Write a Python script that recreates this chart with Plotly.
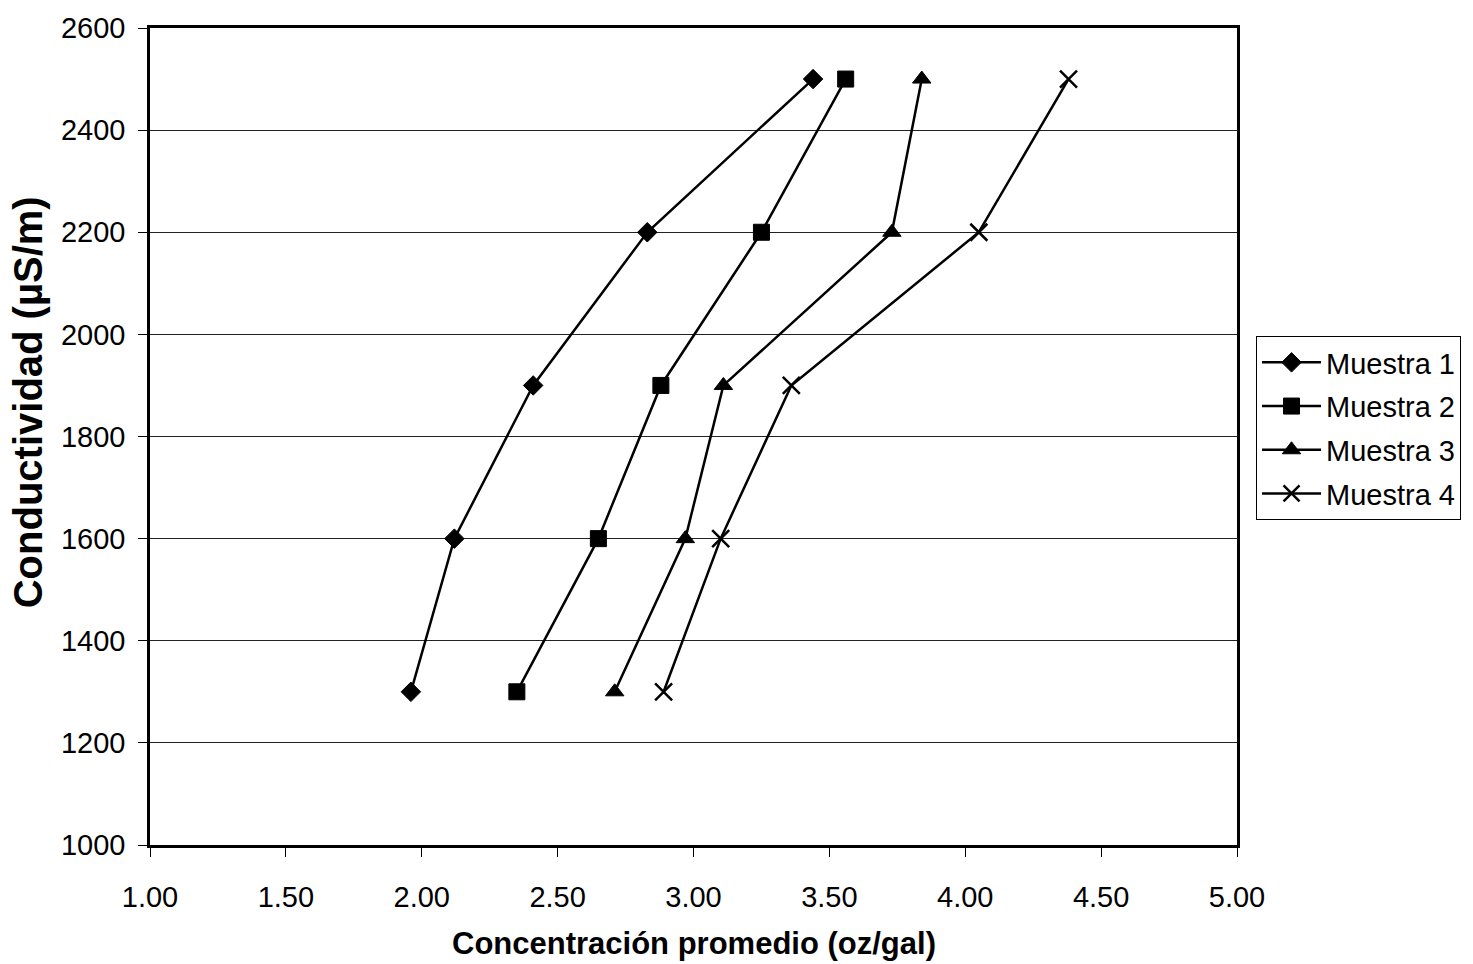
import plotly.graph_objects as go

conductividad = [1300, 1600, 1900, 2200, 2500]
muestra1 = [1.96, 2.12, 2.41, 2.83, 3.44]
muestra2 = [2.35, 2.65, 2.88, 3.25, 3.56]
muestra3 = [2.71, 2.97, 3.11, 3.73, 3.84]
muestra4 = [2.89, 3.10, 3.36, 4.05, 4.38]
nombres = ["Muestra 1", "Muestra 2", "Muestra 3", "Muestra 4"]
simbolos = ["diamond", "square", "triangle-up", "x-thin"]
tamanos = [15, 16, 16, 17]

FONT = "Arial, Liberation Sans"
fig = go.Figure()
for i, (name, xs, sym, sz) in enumerate(zip(nombres, [muestra1, muestra2, muestra3, muestra4], simbolos, tamanos)):
    marker = dict(symbol=sym, size=sz, color="black", line=dict(color="black", width=1))
    if sym == "x-thin":
        marker["line"] = dict(color="black", width=2.5)
    fig.add_trace(go.Scatter(x=xs, y=conductividad, mode="lines+markers", name=name,
                             legendgroup=f"g{i}",
                             line=dict(color="black", width=2.5), marker=marker))

axis_common = dict(showline=True, linecolor="black", linewidth=2.5, mirror=True,
                   ticks="outside", ticklen=9, tickcolor="black", tickwidth=1, zeroline=False,
                   tickfont=dict(family=FONT, size=29, color="black"))
fig.update_xaxes(range=[1, 5], dtick=0.5, tickformat=".2f", showgrid=False,
                 ticklabelstandoff=15, **axis_common)
fig.update_yaxes(range=[1000, 2600], dtick=200, showgrid=True, gridcolor="#222222", gridwidth=1,
                 ticklabelstandoff=7, **axis_common)

fig.add_annotation(text="<b>Concentración promedio (oz/gal)</b>", xref="paper", yref="paper",
                   x=(694 - 150) / 1088, y=(845 - 944) / 821, xanchor="center", yanchor="middle",
                   showarrow=False, font=dict(family=FONT, size=31, color="black"))
fig.add_annotation(text="<b>Conductividad (µS/m)</b>", xref="paper", yref="paper",
                   x=(28 - 150) / 1088, y=(845 - 400) / 821, xanchor="center", yanchor="middle",
                   textangle=-90, showarrow=False, font=dict(family=FONT, size=40, color="black"))

fig.update_layout(
    width=1473, height=964,
    margin=dict(l=150, r=235, t=24, b=119),
    plot_bgcolor="white", paper_bgcolor="white",
    legend=dict(x=1.0175, y=0.623, xanchor="left", yanchor="top",
                bordercolor="black", borderwidth=1, bgcolor="white",
                font=dict(family=FONT, size=29, color="black"),
                tracegroupgap=3, itemwidth=59),
)
fig.write_html("out.html")
